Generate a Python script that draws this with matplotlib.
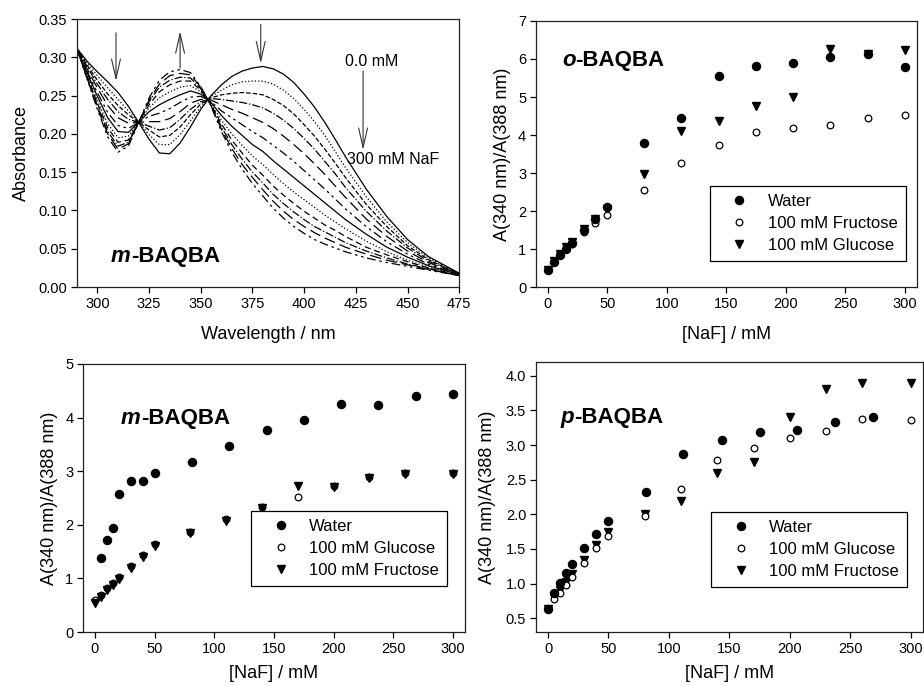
import matplotlib
matplotlib.use('Agg')
import matplotlib.pyplot as plt
from matplotlib.ticker import FormatStrFormatter

plt.rcParams['font.family'] = ['Liberation Sans', 'DejaVu Sans']

# ---- top left: m-BAQBA absorption spectra, 0 -> 300 mM NaF
wavelength = [290, 295, 300, 305, 310, 315, 320, 325, 330, 335, 340, 345, 350, 355,
              360, 365, 370, 375, 380, 385, 390, 395, 400, 405, 410, 415, 420,
              430, 440, 450, 460, 475]

abs_00 = [0.312, 0.295, 0.281, 0.268, 0.254, 0.236, 0.215, 0.193, 0.175, 0.174, 0.188, 0.209, 0.232, 0.250,
          0.264, 0.275, 0.282, 0.286, 0.288, 0.285, 0.278, 0.267, 0.252, 0.235, 0.215, 0.193, 0.170,
          0.128, 0.092, 0.062, 0.040, 0.018]
abs_01 = [0.312, 0.293, 0.276, 0.260, 0.245, 0.230, 0.215, 0.199, 0.186, 0.186, 0.199, 0.217, 0.235, 0.249,
          0.257, 0.264, 0.268, 0.269, 0.269, 0.265, 0.257, 0.246, 0.232, 0.216, 0.198, 0.177, 0.156,
          0.118, 0.085, 0.058, 0.038, 0.018]
abs_02 = [0.312, 0.290, 0.270, 0.252, 0.237, 0.225, 0.215, 0.205, 0.196, 0.198, 0.209, 0.225, 0.239, 0.247,
          0.251, 0.253, 0.254, 0.253, 0.251, 0.245, 0.237, 0.226, 0.212, 0.197, 0.180, 0.162, 0.143,
          0.108, 0.079, 0.054, 0.036, 0.017]
abs_03 = [0.312, 0.288, 0.265, 0.245, 0.229, 0.219, 0.215, 0.210, 0.205, 0.208, 0.219, 0.232, 0.242, 0.246,
          0.245, 0.243, 0.241, 0.238, 0.234, 0.227, 0.218, 0.207, 0.194, 0.180, 0.164, 0.148, 0.130,
          0.099, 0.073, 0.051, 0.034, 0.017]
abs_04 = [0.312, 0.285, 0.260, 0.237, 0.221, 0.214, 0.215, 0.216, 0.216, 0.220, 0.229, 0.240, 0.245, 0.244,
          0.238, 0.232, 0.227, 0.221, 0.215, 0.207, 0.197, 0.186, 0.174, 0.161, 0.147, 0.132, 0.117,
          0.089, 0.066, 0.047, 0.032, 0.017]
abs_05 = [0.312, 0.282, 0.254, 0.228, 0.211, 0.207, 0.215, 0.223, 0.227, 0.233, 0.241, 0.248, 0.249, 0.242,
          0.230, 0.221, 0.212, 0.203, 0.195, 0.185, 0.175, 0.164, 0.152, 0.140, 0.128, 0.115, 0.102,
          0.079, 0.059, 0.043, 0.030, 0.016]
abs_06 = [0.312, 0.280, 0.249, 0.221, 0.203, 0.202, 0.215, 0.229, 0.238, 0.245, 0.251, 0.256, 0.252, 0.241,
          0.224, 0.210, 0.198, 0.186, 0.177, 0.165, 0.154, 0.143, 0.132, 0.121, 0.110, 0.099, 0.088,
          0.069, 0.052, 0.039, 0.028, 0.016]
abs_07 = [0.312, 0.278, 0.244, 0.213, 0.195, 0.197, 0.215, 0.234, 0.247, 0.255, 0.261, 0.263, 0.255, 0.239,
          0.218, 0.200, 0.185, 0.171, 0.160, 0.147, 0.135, 0.124, 0.114, 0.104, 0.094, 0.085, 0.076,
          0.060, 0.046, 0.035, 0.026, 0.016]
abs_08 = [0.312, 0.276, 0.240, 0.208, 0.189, 0.192, 0.215, 0.238, 0.255, 0.264, 0.269, 0.269, 0.257, 0.238,
          0.213, 0.192, 0.175, 0.159, 0.146, 0.132, 0.120, 0.109, 0.099, 0.090, 0.081, 0.074, 0.066,
          0.052, 0.042, 0.033, 0.025, 0.015]
abs_09 = [0.312, 0.274, 0.237, 0.203, 0.184, 0.189, 0.215, 0.242, 0.261, 0.270, 0.274, 0.273, 0.259, 0.237,
          0.209, 0.186, 0.167, 0.150, 0.136, 0.121, 0.109, 0.098, 0.088, 0.079, 0.072, 0.065, 0.058,
          0.047, 0.038, 0.030, 0.024, 0.015]
abs_10 = [0.312, 0.273, 0.234, 0.200, 0.180, 0.187, 0.215, 0.244, 0.265, 0.276, 0.279, 0.277, 0.261, 0.237,
          0.206, 0.181, 0.160, 0.143, 0.127, 0.112, 0.099, 0.088, 0.079, 0.071, 0.064, 0.058, 0.052,
          0.043, 0.035, 0.029, 0.023, 0.015]
abs_11 = [0.312, 0.272, 0.232, 0.196, 0.176, 0.184, 0.215, 0.247, 0.270, 0.281, 0.284, 0.280, 0.262, 0.236,
          0.203, 0.176, 0.154, 0.135, 0.119, 0.103, 0.090, 0.079, 0.070, 0.062, 0.056, 0.051, 0.046,
          0.038, 0.032, 0.027, 0.022, 0.015]

spectra = [abs_00, abs_01, abs_02, abs_03, abs_04, abs_05,
           abs_06, abs_07, abs_08, abs_09, abs_10, abs_11]

# ---- top right: o-BAQBA ratio
o_naf = [0, 5, 10, 15, 20, 30, 40, 50, 81, 112, 144, 175, 206, 237, 269, 300]
o_water = [0.44, 0.66, 0.84, 1.01, 1.17, 1.50, 1.78, 2.10, 3.80, 4.45, 5.56, 5.82, 5.89, 6.05, 6.12, 5.79]
o_fructose = [0.45, 0.66, 0.85, 1.02, 1.13, 1.44, 1.68, 1.90, 2.55, 3.27, 3.75, 4.08, 4.19, 4.26, 4.45, 4.53]
o_glucose = [0.45, 0.68, 0.86, 1.05, 1.19, 1.52, 1.80, 2.06, 2.97, 4.10, 4.37, 4.77, 5.00, 6.27, 6.13, 6.23]

# ---- bottom left: m-BAQBA ratio
m_naf_water = [5, 10, 15, 20, 30, 40, 50, 81, 112, 144, 175, 206, 237, 269, 300]
m_water = [1.39, 1.71, 1.94, 2.58, 2.81, 2.81, 2.96, 3.17, 3.47, 3.77, 3.95, 4.25, 4.23, 4.41, 4.44]
m_naf_sugar = [0, 5, 10, 15, 20, 30, 40, 50, 80, 110, 140, 170, 200, 230, 260, 300]
m_glucose = [0.60, 0.69, 0.82, 0.91, 1.02, 1.23, 1.43, 1.64, 1.87, 2.11, 2.34, 2.51, 2.73, 2.90, 2.97, 2.97]
m_fructose = [0.54, 0.66, 0.79, 0.88, 0.99, 1.20, 1.40, 1.61, 1.84, 2.08, 2.31, 2.72, 2.70, 2.88, 2.95, 2.95]

# ---- bottom right: p-BAQBA ratio
p_naf_water = [0, 5, 10, 15, 20, 30, 40, 50, 81, 112, 144, 175, 206, 237, 269]
p_water = [0.63, 0.86, 1.01, 1.15, 1.28, 1.52, 1.72, 1.90, 2.32, 2.87, 3.08, 3.19, 3.22, 3.33, 3.40]
p_naf_sugar = [0, 5, 10, 15, 20, 30, 40, 50, 80, 110, 140, 170, 200, 230, 260, 300]
p_glucose = [0.63, 0.77, 0.87, 0.98, 1.09, 1.29, 1.51, 1.69, 1.97, 2.37, 2.78, 2.96, 3.10, 3.20, 3.37, 3.36]
p_fructose = [0.63, 0.81, 0.90, 1.02, 1.14, 1.34, 1.55, 1.75, 2.00, 2.19, 2.59, 2.75, 3.40, 3.81, 3.89, 3.89]

ratio_label = 'A(340 nm)/A(388 nm)'
naf_label = '[NaF] / mM'

line_styles = ['-', ':', '--', '-.', (0, (9, 4)), (0, (7, 3, 2, 3, 2, 3)),
               '-', ':', (0, (5, 3)), '-.', (0, (9, 4)), (0, (7, 3, 2, 3, 2, 3))]


def style(ax):
    for s in ax.spines.values():
        s.set_linewidth(0.9)
        s.set_color('#222222')
    ax.tick_params(direction='out', length=4, width=0.9, labelsize=10.5,
                   top=False, right=False, pad=3)


def panel_title(ax, x, y, italic, rest, transform):
    t = ax.text(x, y, italic, transform=transform, fontsize=16, fontweight='bold',
                fontstyle='italic', ha='left', va='center')
    ax.annotate(rest, xy=(1, 0.5), xycoords=t, fontsize=16, fontweight='bold',
                ha='left', va='center')


def add_legend(ax, handles, x, y):
    leg = ax.legend(handles=handles, loc='lower right', bbox_to_anchor=(x, y),
                    borderaxespad=0, fancybox=False, framealpha=1, edgecolor='black',
                    fontsize=12, numpoints=1, borderpad=0.5, handlelength=2.5,
                    handletextpad=0.45, labelspacing=0.4)
    leg.get_frame().set_linewidth(0.9)


fig = plt.figure(figsize=(9.24, 6.86), dpi=100)

# ---------------- panel 1
ax1 = fig.add_axes([0.083, 0.5816, 0.414, 0.3907])
for spec, ls in zip(spectra, line_styles):
    ax1.plot(wavelength, spec, color='black', lw=0.9, linestyle=ls)
ax1.set_xlim(290, 475)
ax1.set_ylim(0, 0.35)
ax1.set_xticks(range(300, 476, 25))
ax1.set_yticks([0, 0.05, 0.10, 0.15, 0.20, 0.25, 0.30, 0.35])
ax1.yaxis.set_major_formatter(FormatStrFormatter('%.2f'))
ax1.set_xlabel('Wavelength / nm', fontsize=13, labelpad=11)
ax1.set_ylabel('Absorbance', fontsize=13, labelpad=6)
style(ax1)

arrow = dict(arrowstyle='->,head_length=1.4,head_width=0.32', lw=0.8,
             color='#333333', shrinkA=0, shrinkB=0, mutation_scale=10)
ax1.annotate('', xy=(309, 0.269), xytext=(309, 0.332), arrowprops=arrow)
ax1.annotate('', xy=(340, 0.334), xytext=(340, 0.286), arrowprops=arrow)
ax1.annotate('', xy=(379, 0.292), xytext=(379, 0.343), arrowprops=arrow)
ax1.annotate('', xy=(428.5, 0.179), xytext=(428.5, 0.282), arrowprops=arrow)
ax1.text(419.6, 0.294, '0.0 mM', fontsize=11.5, ha='left', va='center')
ax1.text(420.6, 0.166, '300 mM NaF', fontsize=11.5, ha='left', va='center')
panel_title(ax1, 306.6, 0.040, 'm', '-BAQBA', ax1.transData)

# ---------------- panel 2
ax2 = fig.add_axes([0.580, 0.5816, 0.4123, 0.3878])
h_og, = ax2.plot(o_naf, o_glucose, 'v', color='black', ms=5.5, label='100 mM Glucose')
h_of, = ax2.plot(o_naf, o_fructose, 'o', mfc='white', mec='black', mew=0.9, ms=4.8,
                 label='100 mM Fructose')
h_ow, = ax2.plot(o_naf, o_water, 'o', color='black', ms=5.8, label='Water')
ax2.set_xlim(-10, 310)
ax2.set_ylim(0, 7)
ax2.set_xticks(range(0, 301, 50))
ax2.set_yticks(range(0, 8))
ax2.set_xlabel(naf_label, fontsize=13, labelpad=11)
ax2.set_ylabel(ratio_label, fontsize=13, labelpad=5)
style(ax2)
add_legend(ax2, [h_ow, h_of, h_og], 0.971, 0.098)
panel_title(ax2, 0.068, 0.853, 'o', '-BAQBA', ax2.transAxes)

# ---------------- panel 3
ax3 = fig.add_axes([0.0898, 0.0787, 0.4134, 0.3907])
h_mg, = ax3.plot(m_naf_sugar, m_glucose, 'o', mfc='white', mec='black', mew=0.9, ms=4.8,
                 label='100 mM Glucose')
h_mf, = ax3.plot(m_naf_sugar, m_fructose, 'v', color='black', ms=5.5, label='100 mM Fructose')
h_mw, = ax3.plot(m_naf_water, m_water, 'o', color='black', ms=5.8, label='Water')
ax3.set_xlim(-10, 310)
ax3.set_ylim(0, 5)
ax3.set_xticks(range(0, 301, 50))
ax3.set_yticks(range(0, 6))
ax3.set_xlabel(naf_label, fontsize=13, labelpad=7)
ax3.set_ylabel(ratio_label, fontsize=13, labelpad=5)
style(ax3)
add_legend(ax3, [h_mw, h_mg, h_mf], 0.953, 0.172)
panel_title(ax3, 0.0995, 0.798, 'm', '-BAQBA', ax3.transAxes)

# ---------------- panel 4
ax4 = fig.add_axes([0.580, 0.0787, 0.4188, 0.3936])
h_pf, = ax4.plot(p_naf_sugar, p_fructose, 'v', color='black', ms=5.5, label='100 mM Fructose')
h_pg, = ax4.plot(p_naf_sugar, p_glucose, 'o', mfc='white', mec='black', mew=0.9, ms=4.8,
                 label='100 mM Glucose')
h_pw, = ax4.plot(p_naf_water, p_water, 'o', color='black', ms=5.8, label='Water')
ax4.set_xlim(-10, 310)
ax4.set_ylim(0.3, 4.2)
ax4.set_xticks(range(0, 301, 50))
ax4.set_yticks([0.5, 1.0, 1.5, 2.0, 2.5, 3.0, 3.5, 4.0])
ax4.yaxis.set_major_formatter(FormatStrFormatter('%.1f'))
ax4.set_xlabel(naf_label, fontsize=13, labelpad=7)
ax4.set_ylabel(ratio_label, fontsize=13, labelpad=7)
style(ax4)
add_legend(ax4, [h_pw, h_pg, h_pf], 0.959, 0.167)
panel_title(ax4, 0.0646, 0.793, 'p', '-BAQBA', ax4.transAxes)

fig.savefig('out.png', dpi=100)
